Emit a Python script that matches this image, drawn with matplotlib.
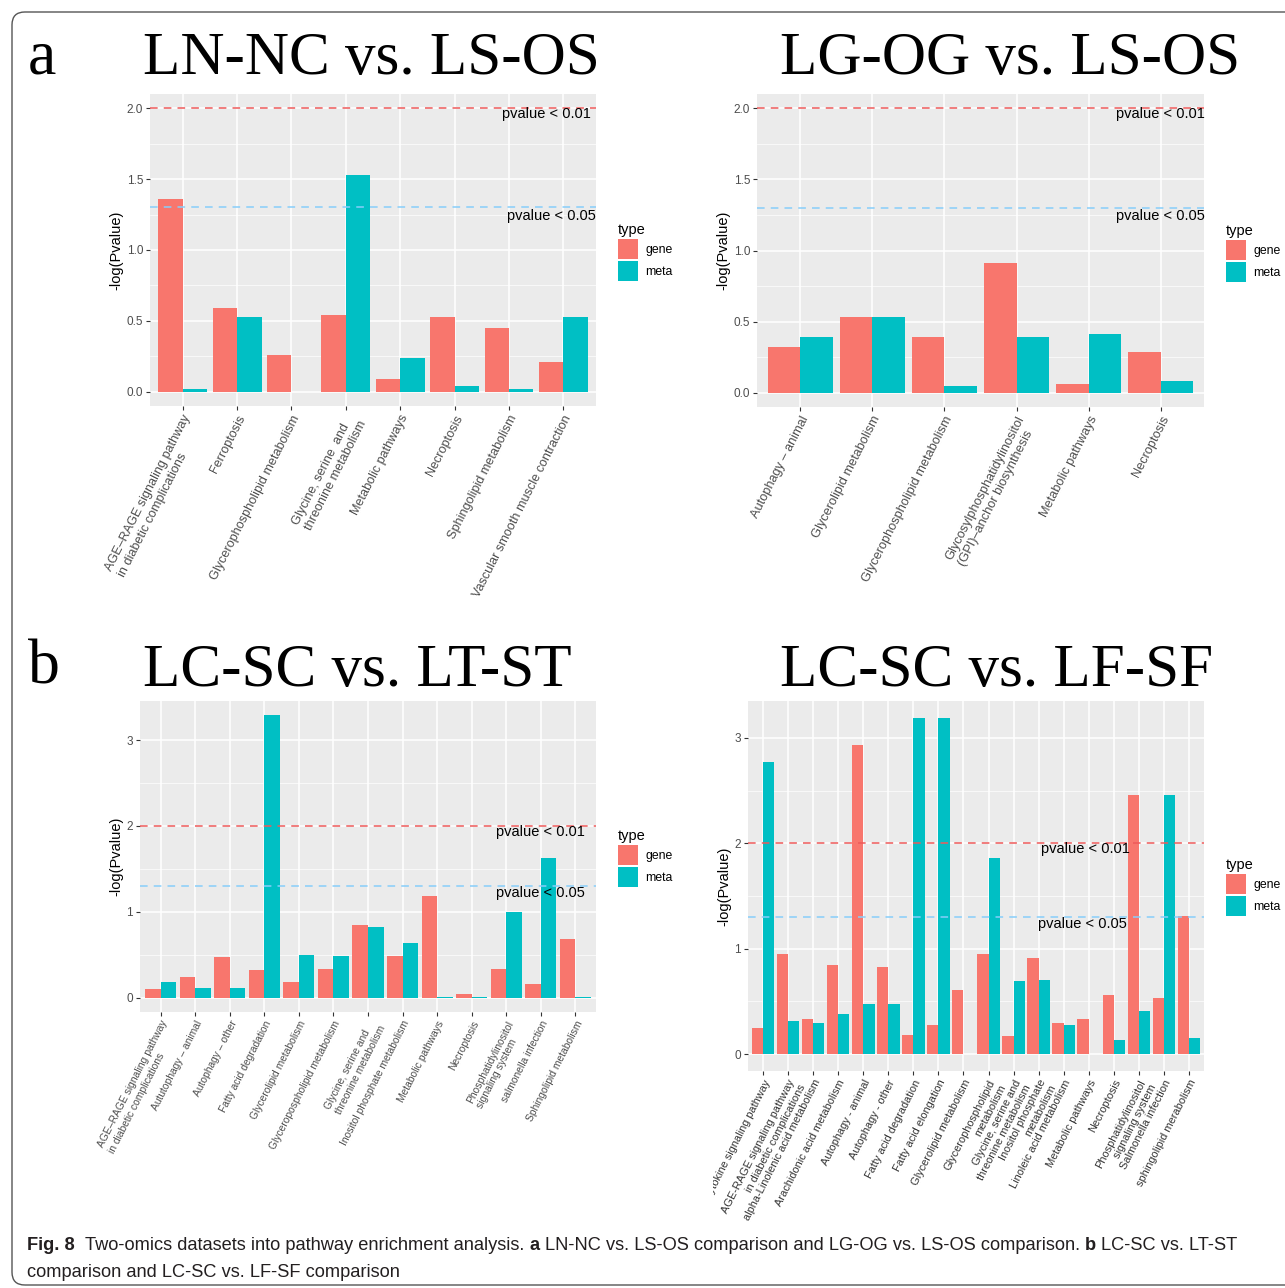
import matplotlib
matplotlib.use('Agg')
import matplotlib.pyplot as plt
from matplotlib.patches import FancyBboxPatch, Patch
from matplotlib.transforms import Bbox
from matplotlib.ticker import FormatStrFormatter
from matplotlib import font_manager
import numpy as np

W, H = 1285, 1288
GENE = '#F8766D'
META = '#00BFC4'

# ---- data ----
# a, left: LN-NC vs. LS-OS
p1_cats = ['AGE–RAGE signaling pathway\nin diabetic complications', 'Ferroptosis',
           'Glycerophospholipid metabolism', 'Glycine, serine  and\nthreonine metabolism',
           'Metabolic pathways', 'Necroptosis', 'Sphingolipid metabolism',
           'Vascular smooth muscle contraction']
p1_gene = [1.36, 0.59, 0.26, 0.54, 0.09, 0.53, 0.45, 0.21]
p1_meta = [0.02, 0.53, 0.0, 1.53, 0.24, 0.04, 0.02, 0.53]

# a, right: LG-OG vs. LS-OS
p2_cats = ['Autophagy – animal', 'Glycerolipid metabolism', 'Glycerophospholipid metabolism',
           'Glycosylphosphatidylinositol\n(GPI)–anchor biosynthesis', 'Metabolic pathways',
           'Necroptosis']
p2_gene = [0.32, 0.53, 0.39, 0.91, 0.06, 0.29]
p2_meta = [0.39, 0.53, 0.05, 0.39, 0.41, 0.08]

# b, left: LC-SC vs. LT-ST
p3_cats = ['AGE–RAGE signaling pathway\nin diabetic complications', 'Aututophagy – animal',
           'Autophagy – other', 'Fatty acid degradation', 'Glycerolipid metabolism',
           'Glyceropospholipid metabolism', 'Glycine, serine and\nthreonine metabolism',
           'Inositol phosphate metabolism', 'Metabolic pathways', 'Necroptosis',
           'Phosphatidylinositol\nsignaling system', 'salmonella infection',
           'Sphingolipid metabolism']
p3_gene = [0.10, 0.24, 0.47, 0.33, 0.19, 0.34, 0.85, 0.49, 1.19, 0.05, 0.34, 0.16, 0.69]
p3_meta = [0.18, 0.11, 0.11, 3.29, 0.50, 0.49, 0.82, 0.64, 0.005, 0.005, 1.00, 1.63, 0.005]

# b, right: LC-SC vs. LF-SF
p4_cats = ['Adipocytokine signaling pathway', 'AGE-RAGE signaling pathway\nin diabetic complications',
           'alpha-Linolenic acid metabolism', 'Arachidonic acid metabolism', 'Autophagy - animal',
           'Autophagy - other', 'Fatty acid degradation', 'Fatty acid elongation',
           'Glycerolipid metabolism', 'Glycerophospholipid\nmetabolism',
           'Glycine, serine and\nthreonine metabolism', 'Inositol phosphate\nmetabolism',
           'Linoleic acid metabolism', 'Metabolic pathways', 'Necroptosis',
           'Phosphatidylinositol\nsignaling system', 'Salmonella infection',
           'sphingolipid merabolism']
p4_gene = [0.25, 0.95, 0.33, 0.85, 2.93, 0.83, 0.18, 0.28, 0.61, 0.95, 0.17, 0.91,
           0.30, 0.33, 0.56, 2.46, 0.53, 1.31]
p4_meta = [2.77, 0.31, 0.30, 0.38, 0.48, 0.48, 3.19, 3.19, 0.0, 1.86, 0.69, 0.70,
           0.28, 0.0, 0.13, 0.41, 2.46, 0.15]

cutoffs = [2.0, 1.3]
cutoff_labels = ['pvalue < 0.01', 'pvalue < 0.05']
cutoff_colors = ['#EE5A5A', '#87CEFA']

plt.rcParams['font.family'] = ['Liberation Sans', 'DejaVu Sans']

fig = plt.figure(figsize=(W / 100, H / 100), dpi=100)


def px(x0, y0, x1, y1):
    return [x0 / W, 1 - y1 / H, (x1 - x0) / W, (y1 - y0) / H]


def panel(rect, cats, gene, meta, step, fmt, fs, malign, lab_color, txt_pos, leg_xy):
    ax = fig.add_axes(px(*rect))
    x = np.arange(len(cats))
    ax.bar(x - 0.225, gene, 0.45, color=GENE)
    ax.bar(x + 0.225, meta, 0.45, color=META)
    top = max(max(gene), max(meta), max(cutoffs))
    ax.set_ylim(-0.05 * top, 1.05 * top)
    ax.set_xlim(-0.6, len(cats) - 0.4)
    ax.set_facecolor('#EBEBEB')
    for s in ax.spines.values():
        s.set_visible(False)
    for c, col in zip(cutoffs, cutoff_colors):
        ax.axhline(c, color=col, ls=(0, (5, 4)), lw=1.1)
    for (tx, ty), t in zip(txt_pos, cutoff_labels):
        ax.text(tx, ty, t, ha='center', va='center', fontsize=10.5, color='black')
    ax.set_yticks(np.arange(0, top + 0.001, step))
    ax.set_yticks(np.arange(step / 2, top * 1.05, step), minor=True)
    ax.yaxis.set_major_formatter(FormatStrFormatter(fmt))
    ax.set_axisbelow(True)
    ax.grid(which='major', color='white', lw=1.1)
    ax.grid(which='minor', axis='y', color='white', lw=0.5)
    ax.set_xticks(x)
    ax.set_xticklabels(cats, rotation=63, ha='right', va='top', rotation_mode='anchor',
                       fontsize=fs, color=lab_color, multialignment=malign)
    ax.tick_params(which='major', length=3, width=0.8, color='#333333', pad=2)
    ax.tick_params(axis='y', labelsize=8.5, labelcolor='#4D4D4D')
    ax.tick_params(which='minor', length=0)
    ax.set_ylabel('-log(Pvalue)', fontsize=10.5, labelpad=2)
    fig.legend([Patch(facecolor=GENE), Patch(facecolor=META)], ['gene', 'meta'], title='type',
               loc='upper left', bbox_to_anchor=(leg_xy[0] / W, 1 - leg_xy[1] / H),
               frameon=False, fontsize=8.8, title_fontsize=10.5, handlelength=1.65,
               handleheight=2.15, handletextpad=0.6, labelspacing=0.15, borderpad=0,
               borderaxespad=0, alignment='left')
    return ax


panel((150, 94, 596, 406), p1_cats, p1_gene, p1_meta, 0.5, '%.1f', 9.1, 'left', '#4D4D4D',
      [(6.69, 1.96), (6.78, 1.24)], (618, 223))
panel((757, 94, 1204, 407), p2_cats, p2_gene, p2_meta, 0.5, '%.1f', 9.2, 'left', '#4D4D4D',
      [(4.99, 1.96), (4.99, 1.24)], (1226, 224))
panel((140, 701, 596, 1012), p3_cats, p3_gene, p3_meta, 1, '%d', 7.4, 'left', '#4D4D4D',
      [(11.0, 1.93), (11.0, 1.22)], (618, 829))
ax4 = panel((748, 701, 1204, 1071), p4_cats, p4_gene, p4_meta, 1, '%d', 7.9, 'right', '#333333',
            [(12.87, 1.95), (12.75, 1.23)], (1226, 858))
# the right picture of b is cut on its left edge
clip = Bbox([[713, 0], [W, H]])
lab0 = ax4.get_xticklabels()[0]
lab0.set_clip_box(clip)
lab0.set_clip_on(True)

# titles
serif = ['Liberation Serif', 'DejaVu Serif']
for t, x, y, s in [('a', 28, 73, 46), ('b', 28, 684, 46),
                   ('LN-NC vs. LS-OS', 143, 74, 44), ('LG-OG vs. LS-OS', 780, 74, 44),
                   ('LC-SC vs. LT-ST', 143, 686, 44), ('LC-SC vs. LF-SF', 780, 686, 44)]:
    fig.text(x / W, 1 - y / H, t, family=serif, fontsize=s, va='baseline', ha='left')

# outer frame
fig.patches.append(FancyBboxPatch((12 / W, 1 - 1285 / H), 1.1, (1285 - 12) / H,
                                  boxstyle='round,pad=0,rounding_size=0.01',
                                  transform=fig.transFigure, fill=False,
                                  edgecolor='#555555', lw=1))

# caption
try:
    font_manager.findfont('Liberation Sans Narrow', fallback_to_default=False)
    cap_family = 'Liberation Sans Narrow'
except ValueError:
    cap_family = 'Liberation Sans'

line1 = [('Fig. 8', 'bold'), ('Two-omics datasets into pathway enrichment analysis.', 'normal'),
         ('a', 'bold'), ('LN-NC vs. LS-OS comparison and LG-OG vs. LS-OS comparison.', 'normal'),
         ('b', 'bold'), ('LC-SC vs. LT-ST', 'normal')]
line2 = [('comparison and LC-SC vs. LF-SF comparison', 'normal')]
renderer = fig.canvas.get_renderer()


def width(s, size, weight):
    t = fig.text(0, 0, s, family=cap_family, fontsize=size, fontweight=weight)
    w = t.get_window_extent(renderer).width
    t.remove()
    return w


def line_width(parts, size):
    sp = width('x x', size, 'normal') - width('xx', size, 'normal')
    return sum(width(s, size, wt) for s, wt in parts) + sp * (len(parts) - 1) + sp, sp


base = 14
w0, _ = line_width(line1, base)
cap_size = base * (1247 - 27) / w0
_, space = line_width(line1, cap_size)
for parts, yb in [(line1, 1250), (line2, 1277)]:
    xc = 27
    for i, (s, wt) in enumerate(parts):
        fig.text(xc / W, 1 - yb / H, s, family=cap_family, fontsize=cap_size, fontweight=wt,
                 color='#231F20', va='baseline', ha='left')
        xc += width(s, cap_size, wt) + space * (2 if i == 0 and len(parts) > 1 else 1)

fig.savefig('out.png', dpi=100)
